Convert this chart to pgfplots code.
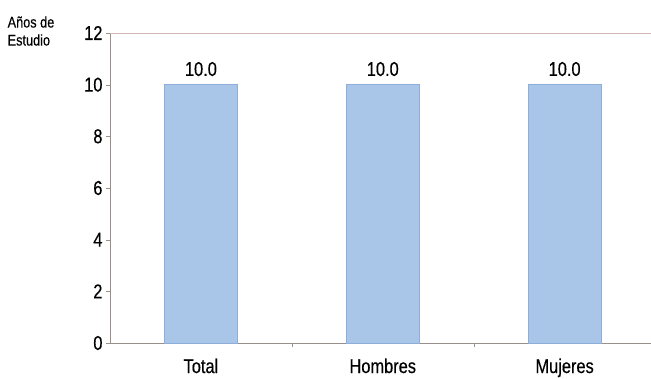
\documentclass[border=0pt]{standalone}
\usepackage{fontspec}
\setmainfont[FakeStretch=0.82,FakeBold=0.4]{Liberation Sans}
\usepackage{pgfplots}
\pgfplotsset{compat=1.18}
\definecolor{barfill}{HTML}{A9C5E8}
\definecolor{baredge}{HTML}{8EAEDA}
\definecolor{axgray}{HTML}{9A8F8A}
\definecolor{axpink}{HTML}{CFB5B5}
\begin{document}
\begin{tikzpicture}[x=1pt,y=1pt]
\useasboundingbox (-110,-36) rectangle (541,343);
\begin{axis}[at={(0,0)}, anchor=south west, scale only axis,
  width=541pt, height=310pt,
  xmin=-0.5, xmax=2.475, ymin=0, ymax=12, ytick={0,2,...,12},
  xtick={0.5,1.5}, xticklabels={},
  extra x ticks={0,1,2}, extra x tick labels={Total,Hombres,Mujeres},
  extra x tick style={major tick length=0pt, tick label style={yshift=-12pt}},
  tick align=outside, major tick length=4pt,
  xtick style={draw=axgray}, ytick style={draw=axgray},
  axis x line*=bottom, axis y line*=left,
  axis line style={draw=axgray, -},
  ybar, bar width=73pt,
  ticklabel style={font=\fontsize{20}{24}\selectfont},
  /pgf/number format/assume math mode=true,
  nodes near coords,
  nodes near coords style={font=\fontsize{20}{24}\selectfont, yshift=5pt, /pgf/number format/fixed, /pgf/number format/fixed zerofill, /pgf/number format/precision=1},
  clip=false,
]
\addplot[fill=barfill, draw=baredge] coordinates {(0,10.0) (1,10.0) (2,10.0)};
\draw[axpink, line width=0.8pt] (rel axis cs:0,1) -- (rel axis cs:1,1);
\end{axis}
\node[align=left, font=\fontsize{15.5}{18}\selectfont, inner sep=0pt] at (-79,312) {Años de\\Estudio};
\end{tikzpicture}
\end{document}
